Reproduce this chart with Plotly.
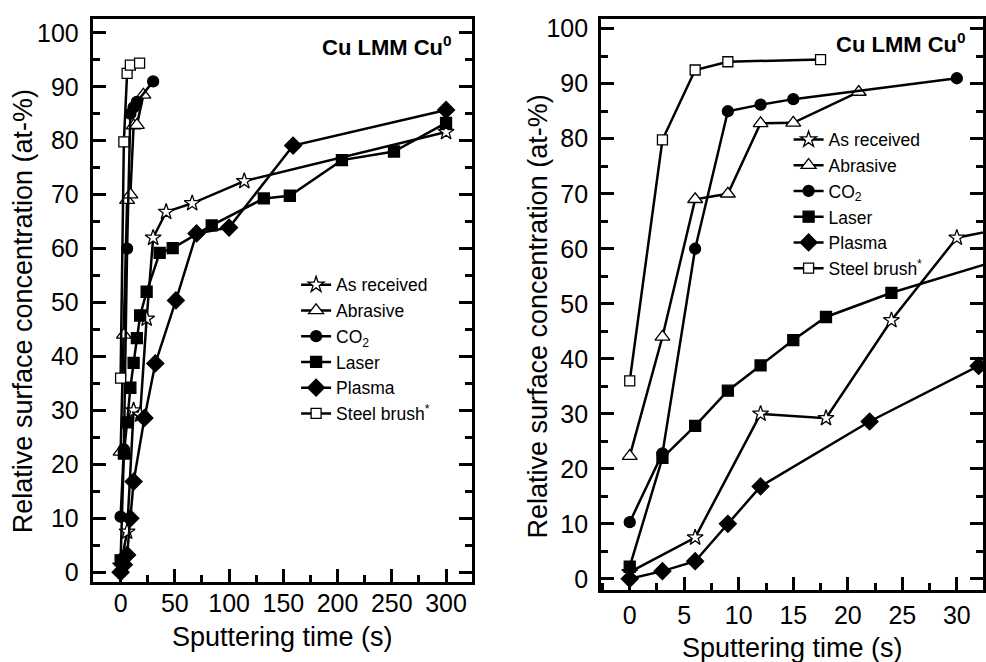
import plotly.graph_objects as go

# ---- data (sputtering time in s, concentration in at-%) ----
series_names = ["As received", "Abrasive", "CO<sub>2</sub>", "Laser", "Plasma", "Steel brush<sup>*</sup>"]

t_as = [0, 6, 12, 18, 24, 30, 42, 66, 114, 300]
c_as = [1.2, 7.5, 30, 29.2, 47, 62, 66.8, 68.4, 72.5, 81.6]

t_ab = [0, 3, 6, 9, 12, 15, 21]
c_ab = [22.3, 44, 69, 70, 82.8, 82.9, 88.5]

t_co2 = [0, 3, 6, 9, 12, 15, 30]
c_co2 = [10.3, 22.8, 60, 85, 86.2, 87.2, 91]

t_las = [0, 3, 6, 9, 12, 15, 18, 24, 36, 48, 84, 132, 156, 204, 252, 300]
c_las = [2.2, 22, 27.8, 34.2, 38.8, 43.4, 47.6, 52, 59.2, 60.1, 64.3, 69.3, 69.8, 76.4, 78, 83.3]

t_pl = [0, 3, 6, 9, 12, 22, 32, 51, 70, 100, 159, 300]
c_pl = [0, 1.4, 3.2, 10, 16.8, 28.6, 38.7, 50.4, 62.8, 63.9, 79.1, 85.7]

t_sb = [0, 3, 6, 9, 17.5]
c_sb = [36, 79.8, 92.5, 94, 94.4]

series_t = [t_as, t_ab, t_co2, t_las, t_pl, t_sb]
series_c = [c_as, c_ab, c_co2, c_las, c_pl, c_sb]
symbols = ["star", "triangle-up", "circle", "square", "diamond", "square"]
fills = ["white", "white", "black", "black", "black", "white"]
sizes = [12, 13, 11, 11, 13, 10]

W, H = 986, 662
FONT = "Liberation Sans, Arial, sans-serif"

fig = go.Figure()
for panel, (xa, ya, lg) in enumerate([("x", "y", "legend"), ("x2", "y2", "legend2")]):
    for i in range(6):
        fig.add_trace(go.Scatter(
            x=series_t[i], y=series_c[i], name=series_names[i],
            mode="lines+markers", xaxis=xa, yaxis=ya, legend=lg,
            line=dict(color="black", width=2.5),
            marker=dict(symbol=symbols[i], size=sizes[i], color=fills[i],
                        line=dict(color="black", width=1.3)),
        ))

def px_x(p):
    return p / W

def px_y(p):
    return 1 - p / H

common = dict(
    showline=True, linecolor="black", linewidth=3,
    ticks="inside", ticklen=13, tickwidth=2.5, tickcolor="black",
    showgrid=False, zeroline=False,
    tickfont=dict(family=FONT, size=25, color="black"),
)

def minor(d):
    return dict(ticks="inside", ticklen=7, tickwidth=2.5, dtick=d, tick0=0, tickcolor="black")

fig.update_layout(
    width=W, height=H, margin=dict(l=0, r=0, t=0, b=0),
    paper_bgcolor="white", plot_bgcolor="white",
    font=dict(family=FONT, color="black"),
    xaxis=dict(domain=[px_x(93), px_x(473)], range=[-25.7, 323.5], dtick=50, tick0=0,
               minor=minor(25), anchor="y", mirror=True, ticklabelstandoff=-3, **common),
    yaxis=dict(domain=[px_y(585), px_y(15)], range=[-1.8, 102.6], dtick=10, tick0=0,
               minor=minor(5), anchor="x", mirror="allticks", ticklabelstandoff=6, **common),
    xaxis2=dict(domain=[px_x(603), 1.0], range=[-2.62, 32.4], dtick=5, tick0=0,
                minor=minor(2.5), anchor="y2", mirror=True, ticklabelstandoff=1, **common),
    yaxis2=dict(domain=[px_y(593), px_y(15)], range=[-2.0, 101.8], dtick=10, tick0=0,
                minor=minor(5), anchor="x2", mirror="allticks", ticklabelstandoff=5, **common),
    legend=dict(x=px_x(297), y=px_y(266), xanchor="left", yanchor="top",
                bgcolor="rgba(0,0,0,0)", font=dict(family=FONT, size=17.5, color="black"),
                tracegroupgap=0, itemwidth=30),
    legend2=dict(x=px_x(791), y=px_y(119), xanchor="left", yanchor="top",
                 bgcolor="rgba(0,0,0,0)", font=dict(family=FONT, size=17.5, color="black"),
                 tracegroupgap=0, itemwidth=30),
    showlegend=True,
)

ytitle_font = dict(family=FONT, size=27, color="black")
xtitle_font = dict(family=FONT, size=27, color="black")
annotations = [
    dict(text="Relative surface concentration (at-%)", x=px_x(23), y=px_y(311), textangle=-90,
         xref="paper", yref="paper", showarrow=False, font=ytitle_font, xanchor="center", yanchor="middle"),
    dict(text="Relative surface concentration (at-%)", x=px_x(540), y=px_y(316), textangle=-90,
         xref="paper", yref="paper", showarrow=False, font=ytitle_font, xanchor="center", yanchor="middle"),
    dict(text="Sputtering time (s)", x=px_x(283), y=px_y(641),
         xref="paper", yref="paper", showarrow=False, font=xtitle_font, xanchor="center", yanchor="middle"),
    dict(text="Sputtering time (s)", x=px_x(795), y=px_y(652),
         xref="paper", yref="paper", showarrow=False, font=xtitle_font, xanchor="center", yanchor="middle"),
    dict(text="<b>Cu LMM Cu<sup>0</sup></b>", x=px_x(455), y=px_y(43),
         xref="paper", yref="paper", showarrow=False, xanchor="right", yanchor="middle",
         font=dict(family=FONT, size=22, color="black")),
    dict(text="<b>Cu LMM Cu<sup>0</sup></b>", x=px_x(971), y=px_y(39),
         xref="paper", yref="paper", showarrow=False, xanchor="right", yanchor="middle",
         font=dict(family=FONT, size=22, color="black")),
]
fig.update_layout(annotations=annotations)

fig.write_html("out.html")
